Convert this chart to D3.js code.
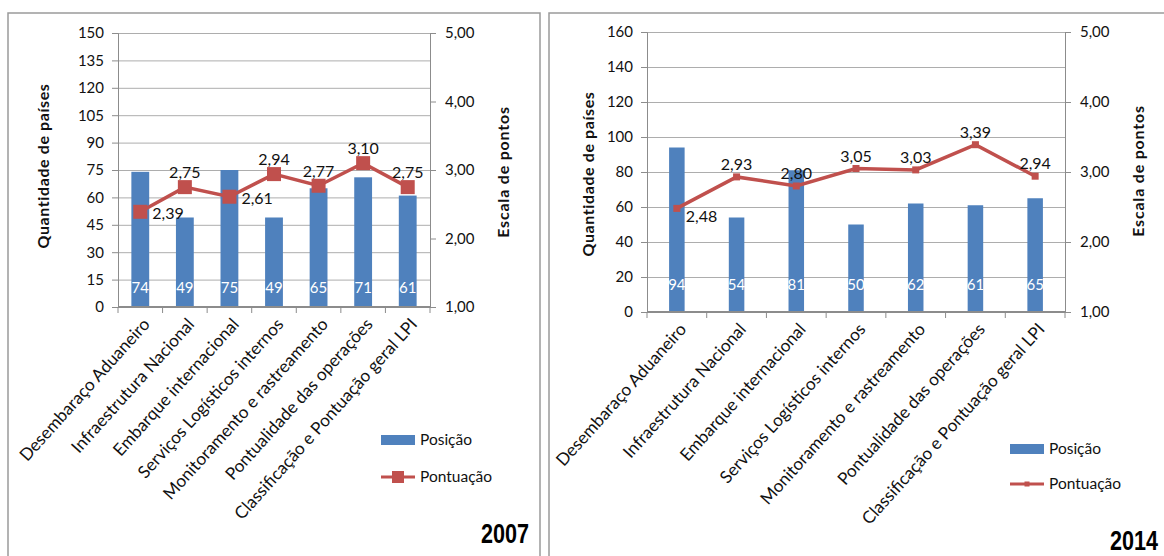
<!DOCTYPE html>
<html>
<head>
<meta charset="utf-8">
<script src="https://cdn.jsdelivr.net/npm/d3@7"></script>
<style>
  body { margin: 0; background: #fff; }
  svg { display: block; font-family: Lato, "Open Sans", sans-serif; }
</style>
</head>
<body>
<svg id="chart" width="1164" height="556"></svg>
<script>
// data
var categories = ["Desembaraço Aduaneiro", "Infraestrutura Nacional", "Embarque internacional",
  "Serviços Logísticos internos", "Monitoramento e rastreamento", "Pontualidade das operações",
  "Classificação e Pontuação geral LPI"];

var posicao2007 = [74, 49, 75, 49, 65, 71, 61];
var pontuacao2007 = [2.39, 2.75, 2.61, 2.94, 2.77, 3.10, 2.75];
var posicao2014 = [94, 54, 81, 50, 62, 61, 65];
var pontuacao2014 = [2.48, 2.93, 2.80, 3.05, 3.03, 3.39, 2.94];

var leftTicks2007 = [0, 15, 30, 45, 60, 75, 90, 105, 120, 135, 150];
var leftTicks2014 = [0, 20, 40, 60, 80, 100, 120, 140, 160];
var rightTicks = [1, 2, 3, 4, 5];

// label placement of the Pontuação values ("right" or "top")
var labelPos2007 = ["right", "top", "right", "top", "top", "top", "top"];
var labelPos2014 = ["right", "top", "top", "top", "top", "top", "top"];

var blue = "#4F81BD", red = "#C0504D", grid = "#ADADAD", axisCol = "#8C8C8C";
var svg = d3.select("#chart");
var fmt = function(v) { return d3.format(".2f")(v).replace(".", ","); };

function drawChart(o) {
  var g = svg.append("g");

  // outer frame
  g.append("rect").attr("x", o.box[0]).attr("y", o.box[1])
    .attr("width", o.box[2]).attr("height", o.box[3])
    .attr("fill", "none").attr("stroke", "#9A9A9A").attr("stroke-width", 1.5);

  var x = d3.scaleBand().domain(categories).range([o.left, o.right]);
  var y = d3.scaleLinear().domain([0, o.leftTicks[o.leftTicks.length - 1]]).range([o.bottom, o.top]);
  var y2 = d3.scaleLinear().domain([1, 5]).range([o.bottom, o.top]);

  // gridlines
  g.selectAll(".grid").data(o.leftTicks.slice(1)).enter().append("line")
    .attr("x1", o.left).attr("x2", o.right)
    .attr("y1", function(d) { return y(d) + 0.5; }).attr("y2", function(d) { return y(d) + 0.5; })
    .attr("stroke", grid).attr("stroke-width", 1);

  // left axis
  var ax = g.append("g").attr("transform", "translate(" + o.left + ",0)")
    .call(d3.axisLeft(y).tickValues(o.leftTicks).tickSize(6).tickPadding(8));
  ax.select(".domain").attr("stroke", axisCol);
  ax.selectAll(".tick line").attr("stroke", axisCol);
  ax.selectAll("text").attr("font-size", 15).attr("fill", "#111").attr("font-family", "Lato");

  // right axis
  var ar = g.append("g").attr("transform", "translate(" + o.right + ",0)")
    .call(d3.axisRight(y2).tickValues(rightTicks).tickSize(6).tickPadding(9).tickFormat(fmt));
  ar.select(".domain").attr("stroke", axisCol);
  ar.selectAll(".tick line").attr("stroke", axisCol);
  ar.selectAll("text").attr("font-size", 15).attr("fill", "#111").attr("font-family", "Lato");

  // bars
  var bw = x.bandwidth() * o.barFrac;
  g.selectAll(".bar").data(o.posicao).enter().append("rect")
    .attr("x", function(d, i) { return x(categories[i]) + (x.bandwidth() - bw) / 2; })
    .attr("y", function(d) { return y(d); })
    .attr("width", bw)
    .attr("height", function(d) { return o.bottom - y(d); })
    .attr("fill", blue);

  g.selectAll(".barlabel").data(o.posicao).enter().append("text")
    .attr("x", function(d, i) { return x(categories[i]) + x.bandwidth() / 2; })
    .attr("y", o.bottom - o.barLabelOff)
    .attr("text-anchor", "middle").attr("font-size", 15).attr("fill", "#fff")
    .text(function(d) { return d; });

  // bottom axis
  var ab = g.append("g").attr("transform", "translate(0," + o.bottom + ")");
  ab.append("line").attr("x1", o.left).attr("x2", o.right).attr("stroke", axisCol).attr("stroke-width", 2);
  ab.selectAll(".xt").data(d3.range(categories.length + 1)).enter().append("line")
    .attr("x1", function(i) { return o.left + i * x.step(); })
    .attr("x2", function(i) { return o.left + i * x.step(); })
    .attr("y1", 0).attr("y2", 6).attr("stroke", axisCol);
  ab.selectAll(".xl").data(categories).enter().append("text")
    .attr("transform", function(d) {
      return "translate(" + (x(d) + x.bandwidth() / 2 + 6) + ",14) rotate(-48)";
    })
    .attr("text-anchor", "end").attr("dy", "0.35em")
    .attr("font-size", 17.2).attr("fill", "#111")
    .text(function(d) { return d; });

  // line + markers
  var line = d3.line()
    .x(function(d, i) { return x(categories[i]) + x.bandwidth() / 2; })
    .y(function(d) { return y2(d); });
  g.append("path").datum(o.pontuacao).attr("d", line)
    .attr("fill", "none").attr("stroke", red).attr("stroke-width", 3.5);
  g.selectAll(".mk").data(o.pontuacao).enter().append("rect")
    .attr("x", function(d, i) { return x(categories[i]) + x.bandwidth() / 2 - o.mark / 2; })
    .attr("y", function(d) { return y2(d) - o.mark / 2; })
    .attr("width", o.mark).attr("height", o.mark)
    .attr("fill", red);

  g.selectAll(".pl").data(o.pontuacao).enter().append("text")
    .attr("x", function(d, i) {
      var cx = x(categories[i]) + x.bandwidth() / 2;
      return o.labelPos[i] === "right" ? cx + o.rightOff : cx;
    })
    .attr("y", function(d, i) {
      return o.labelPos[i] === "right" ? y2(d) + o.rightDy : y2(d) - o.topOff;
    })
    .attr("text-anchor", function(d, i) { return o.labelPos[i] === "right" ? "start" : "middle"; })
    .attr("font-size", 16).attr("fill", "#111")
    .text(fmt);

  // axis titles
  g.append("text").attr("transform", "translate(" + o.ytitle[0] + "," + o.ytitle[1] + ") rotate(-90)")
    .attr("text-anchor", "middle").attr("dy", "0.35em")
    .attr("font-size", 16).attr("font-weight", "bold").attr("letter-spacing", 0.6).attr("fill", "#111")
    .text("Quantidade de países");
  g.append("text").attr("transform", "translate(" + o.y2title[0] + "," + o.y2title[1] + ") rotate(-90)")
    .attr("text-anchor", "middle").attr("dy", "0.35em")
    .attr("font-size", 16).attr("font-weight", "bold").attr("letter-spacing", 0.8).attr("fill", "#111")
    .text("Escala de pontos");

  // legend
  var lg = g.append("g").attr("transform", "translate(" + o.legend[0] + "," + o.legend[1] + ")");
  lg.append("rect").attr("x", 0).attr("y", -5).attr("width", 34).attr("height", 10).attr("fill", blue);
  lg.append("text").attr("x", 39).attr("y", 0).attr("dy", "0.35em").attr("font-size", 15.5).attr("fill", "#111").text("Posição");
  lg.append("line").attr("x1", 0).attr("x2", 34).attr("y1", o.legendGap).attr("y2", o.legendGap)
    .attr("stroke", red).attr("stroke-width", 3);
  lg.append("rect").attr("x", 17 - o.legendMark / 2).attr("y", o.legendGap - o.legendMark / 2)
    .attr("width", o.legendMark).attr("height", o.legendMark).attr("fill", red);
  lg.append("text").attr("x", 39).attr("y", o.legendGap).attr("dy", "0.35em").attr("font-size", 15.5).attr("fill", "#111").text("Pontuação");

  // year (narrow bold figures)
  g.append("text")
    .attr("transform", "translate(" + o.year[0] + "," + o.year[1] + ") scale(0.8,1)")
    .attr("text-anchor", "end").attr("font-family", "Liberation Sans, Arial")
    .attr("font-weight", "bold").attr("font-size", 27).attr("fill", "#000")
    .text(o.yearText);
}

drawChart({
  box: [8, 13, 532, 560],
  left: 118, right: 430, top: 33, bottom: 307,
  leftTicks: leftTicks2007, posicao: posicao2007, pontuacao: pontuacao2007,
  labelPos: labelPos2007, barFrac: 0.4, barLabelOff: 14, mark: 14,
  rightOff: 12, rightDy: 7, topOff: 9,
  ytitle: [43, 166], y2title: [503, 172],
  legend: [381, 440], legendGap: 37, legendMark: 12,
  year: [529, 543], yearText: "2007"
});

drawChart({
  box: [549, 13, 640, 560],
  left: 647, right: 1065, top: 32, bottom: 312,
  leftTicks: leftTicks2014, posicao: posicao2014, pontuacao: pontuacao2014,
  labelPos: labelPos2014, barFrac: 0.26, barLabelOff: 22, mark: 7,
  rightOff: 9, rightDy: 14, topOff: 7,
  ytitle: [588, 174], y2title: [1138, 171],
  legend: [1010, 449], legendGap: 35, legendMark: 5,
  year: [1158, 550], yearText: "2014"
});
</script>
</body>
</html>
